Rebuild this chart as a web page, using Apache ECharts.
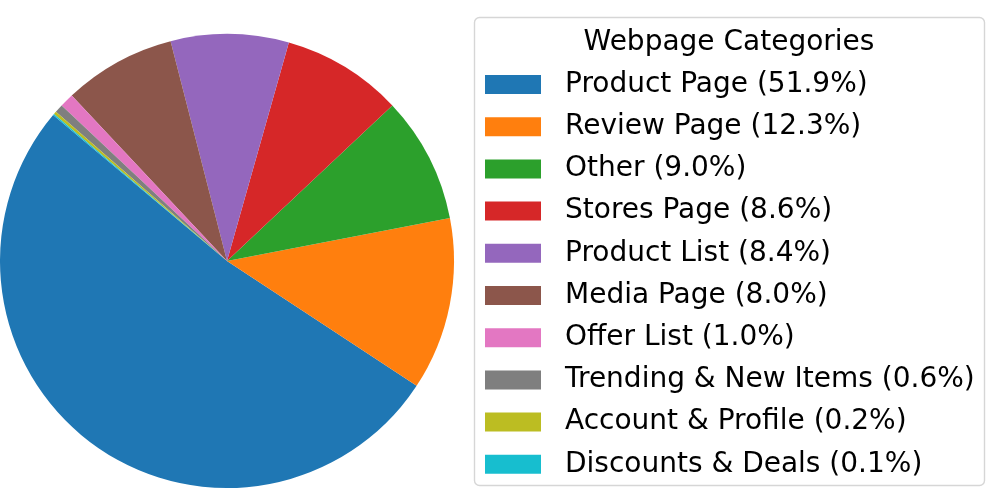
<!DOCTYPE html>
<html>
<head>
<meta charset="utf-8">
<script src="https://cdn.jsdelivr.net/npm/echarts@6/dist/echarts.min.js"></script>
<style>html,body{margin:0;padding:0;background:#fff}#c{width:997px;height:502px}</style>
</head>
<body>
<div id="c"></div>
<script>
const categories = ["Product Page","Review Page","Other","Stores Page","Product List","Media Page","Offer List","Trending & New Items","Account & Profile","Discounts & Deals"];
const shares = [51.9, 12.3, 9.0, 8.6, 8.4, 8.0, 1.0, 0.6, 0.2, 0.1];
const colors = ["#1f77b4","#ff7f0e","#2ca02c","#d62728","#9467bd","#8c564b","#e377c2","#7f7f7f","#bcbd22","#17becf"];
const legendTitle = "Webpage Categories";

const chart = echarts.init(document.getElementById('c'), null, {renderer:'canvas'});
const font = "'DejaVu Sans', sans-serif";
const valueByName = {};
categories.forEach((c,i)=>valueByName[c]=shares[i]);

chart.setOption({
  animation: false,
  color: colors,
  graphic: [
    {type:'rect', shape:{x:474.5, y:17.5, width:510, height:468, r:5}, style:{fill:'#fff', stroke:'#d6d6d6', lineWidth:1.4}, z:0},
    {type:'text', x:729, y:42.5, style:{text:legendTitle, font:'28px ' + font, fill:'#000', textAlign:'center', textVerticalAlign:'middle'}, z:10}
  ],
  legend: {
    orient:'vertical',
    left:485, top:69.5,
    padding:0,
    itemWidth:56, itemHeight:19,
    itemGap:12.2,
    icon:'rect',
    selectedMode:false,
    textStyle:{fontFamily:font, fontSize:28, color:'#000', lineHeight:30, padding:[0,0,0,19]},
    formatter: n => n + ' (' + valueByName[n].toFixed(1) + '%)',
    data: categories
  },
  series: [{
    type:'pie',
    center:[227,261],
    radius:[0,227],
    startAngle:140,
    clockwise:false,
    avoidLabelOverlap:false,
    label:{show:false},
    labelLine:{show:false},
    emphasis:{disabled:true},
    itemStyle:{borderWidth:0},
    data: categories.map((c,i)=>({name:c, value:shares[i]}))
  }]
});
</script>
</body>
</html>
